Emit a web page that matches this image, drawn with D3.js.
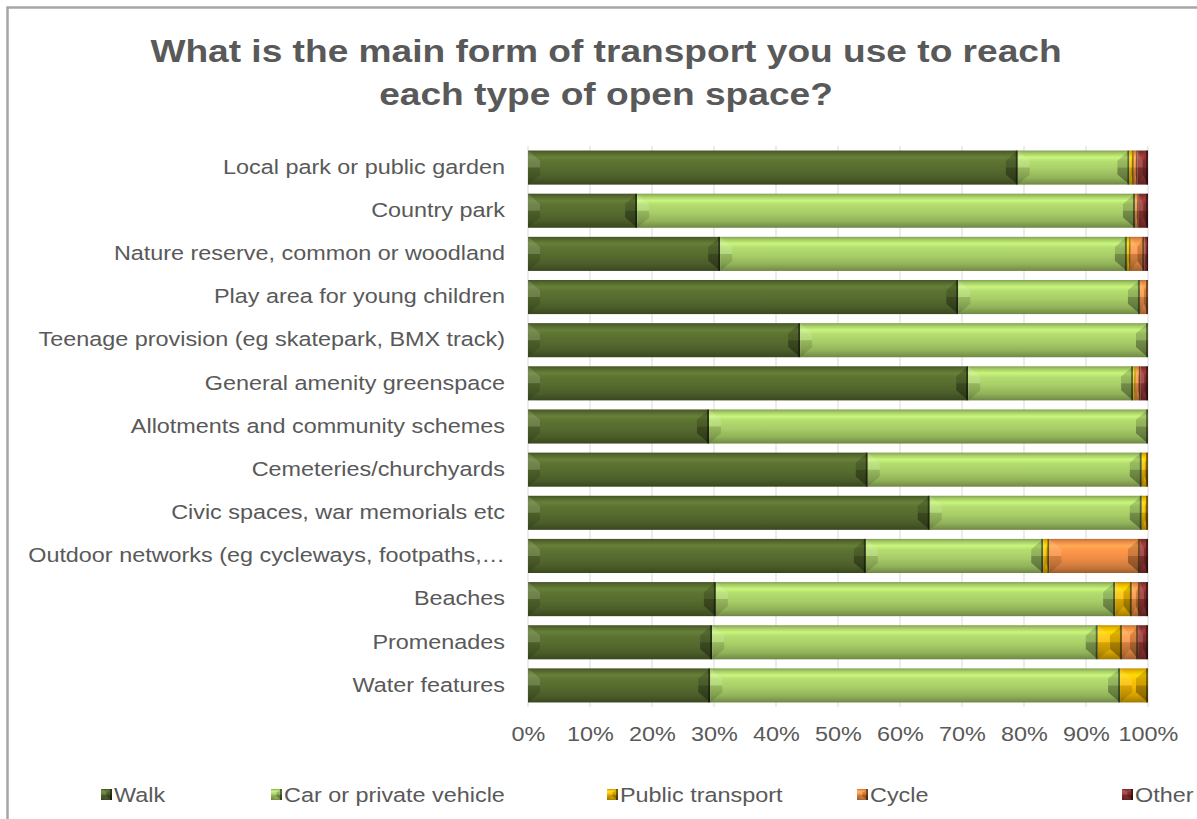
<!DOCTYPE html>
<html>
<head>
<meta charset="utf-8">
<script src="https://cdn.jsdelivr.net/npm/d3@7"></script>
<style>
  html, body { margin: 0; padding: 0; background: #fff; }
  svg { display: block; }
  text { font-family: "Liberation Sans", Arial, sans-serif; fill: #595959; }
</style>
</head>
<body>
<svg id="chart" width="1197" height="819"></svg>
<script>
// Survey responses: share of each transport mode, per type of open space (%)
const categories = [
  "Local park or public garden",
  "Country park",
  "Nature reserve, common or woodland",
  "Play area for young children",
  "Teenage provision (eg skatepark, BMX track)",
  "General amenity greenspace",
  "Allotments and community schemes",
  "Cemeteries/churchyards",
  "Civic spaces, war memorials etc",
  "Outdoor networks (eg cycleways, footpaths,\u2026",
  "Beaches",
  "Promenades",
  "Water features"
];
const seriesNames = ["Walk", "Car or private vehicle", "Public transport", "Cycle", "Other"];
const walk      = [79.0, 17.6, 31.0, 69.4, 43.9, 71.0, 29.2, 54.8, 64.8, 54.5, 30.3, 29.7, 29.4];
const car       = [18.0, 80.3, 65.6, 29.3, 56.1, 26.6, 70.8, 44.2, 34.2, 28.6, 64.4, 62.2, 66.1];
const publicTr  = [ 0.7,  0.0,  0.6,  0.0,  0.0,  0.4,  0.0,  1.0,  1.0,  1.0,  2.7,  3.9,  4.5];
const cycle     = [ 0.6,  0.6,  2.2,  1.3,  0.0,  0.8,  0.0,  0.0,  0.0, 14.6,  1.3,  2.6,  0.0];
const other     = [ 1.7,  1.5,  0.6,  0.0,  0.0,  1.2,  0.0,  0.0,  0.0,  1.3,  1.3,  1.6,  0.0];
const tickValues = [0, 10, 20, 30, 40, 50, 60, 70, 80, 90, 100];
const baseColors = ["#566b2f", "#a8ce68", "#f2b800", "#f08e45", "#8e3432"];

const seriesValues = [walk, car, publicTr, cycle, other];
const rows = categories.map((c, i) => {
  const r = { category: c };
  seriesNames.forEach((s, k) => r[s] = seriesValues[k][i]);
  return r;
});

const TEXT_STRETCH = 1.2;   // wide lettering used throughout the chart

const svg = d3.select("#chart");
const defs = svg.append("defs");

// Vertical shading giving each segment its rounded / bevelled look
baseColors.forEach((col, k) => {
  const c = d3.color(col);
  const g = defs.append("linearGradient").attr("id", "grad" + k)
    .attr("x1", 0).attr("y1", 0).attr("x2", 0).attr("y2", 1);
  [[0, c.darker(0.7)], [0.07, c.darker(0.1)], [0.2, c.brighter(0.5)], [0.32, c.brighter(0.2)],
   [0.55, c], [0.8, c.darker(0.4)], [0.93, c.darker(0.85)], [1, c.darker(1.2)]]
    .forEach(([o, cc]) => g.append("stop").attr("offset", o).attr("stop-color", cc.formatHex()));
});

// Outer frame
svg.append("rect").attr("x", 7.5).attr("y", 7.5).attr("width", 1260).attr("height", 900)
  .attr("fill", "none").attr("stroke", "#a6a6a6").attr("stroke-width", 2.5);

// Title
const title = svg.append("text").attr("transform", "translate(606,0) scale(1.16,1)")
  .attr("text-anchor", "middle")
  .style("font-size", "32px").style("font-weight", "bold");
title.append("tspan").attr("x", 0).attr("y", 62).text("What is the main form of transport you use to reach");
title.append("tspan").attr("x", 0).attr("y", 105).text("each type of open space?");

const x = d3.scaleLinear().domain([0, 100]).range([528, 1148]);
const y = d3.scaleBand().domain(categories).range([146, 707]).paddingInner(0.21).paddingOuter(0.105);

// Gridlines
svg.append("g").selectAll("line").data(tickValues).join("line")
  .attr("x1", d => x(d)).attr("x2", d => x(d))
  .attr("y1", y.range()[0]).attr("y2", y.range()[1])
  .attr("stroke", "#d9d9d9").attr("stroke-width", 1);

// X axis labels
const xAxis = d3.axisBottom(x).tickValues(tickValues).tickFormat(d => d + "%").tickSize(0).tickPadding(0);
const gx = svg.append("g").attr("transform", "translate(0,727)").call(xAxis);
gx.select(".domain").remove();
gx.selectAll("text").style("font-size", "19.5px").style("fill", "#595959")
  .style("font-family", '"Liberation Sans", Arial, sans-serif')
  .attr("transform", `scale(${TEXT_STRETCH},1)`);

// Y axis labels
const yAxis = d3.axisLeft(y).tickSize(0).tickPadding(0);
const gy = svg.append("g").attr("transform", "translate(505,0)").call(yAxis);
gy.select(".domain").remove();
gy.selectAll("text").style("font-size", "19.5px").style("fill", "#595959")
  .style("font-family", '"Liberation Sans", Arial, sans-serif')
  .attr("transform", `scale(${TEXT_STRETCH},1)`);

// Stacked bars
const stack = d3.stack().keys(seriesNames)(rows);

function drawBevelSeg(g, x0, x1, y0, h, k) {
  const w = x1 - x0;
  if (w <= 0) return;
  const y1 = y0 + h, ym = y0 + h / 2;
  const b = Math.min(12, w / 2);
  g.append("rect").attr("x", x0).attr("y", y0).attr("width", w).attr("height", h)
    .attr("fill", `url(#grad${k})`);
  // left end cap
  g.append("path").attr("d", `M${x0},${y0}L${x0 + b},${y0 + h * 0.3}L${x0 + b},${ym}L${x0},${ym}Z`)
    .attr("fill", "#fff").attr("opacity", 0.13);
  g.append("path").attr("d", `M${x0},${ym}L${x0 + b},${ym}L${x0 + b},${y1 - h * 0.3}L${x0},${y1}Z`)
    .attr("fill", "#000").attr("opacity", 0.12);
  // right end cap
  g.append("path").attr("d", `M${x1},${y0}L${x1 - b},${y0 + h * 0.3}L${x1 - b},${ym}L${x1},${ym}Z`)
    .attr("fill", "#000").attr("opacity", 0.16);
  g.append("path").attr("d", `M${x1},${ym}L${x1 - b},${ym}L${x1 - b},${y1 - h * 0.3}L${x1},${y1}Z`)
    .attr("fill", "#000").attr("opacity", 0.32);
  // dark edge line on the right
  g.append("rect").attr("x", x1 - Math.min(2, w / 3)).attr("y", y0).attr("width", Math.min(2, w / 3)).attr("height", h)
    .attr("fill", "#000").attr("opacity", 0.45);
}

const barsG = svg.append("g");
stack.forEach((layer, k) => {
  const lg = barsG.append("g").attr("class", "series-" + k);
  layer.forEach(d => {
    drawBevelSeg(lg, x(d[0]), x(d[1]), y(d.data.category), y.bandwidth(), k);
  });
});

// Legend
const legendX = [101, 271, 607, 857, 1122];
const lg = svg.append("g");
seriesNames.forEach((s, k) => {
  const g = lg.append("g");
  drawBevelSeg(g, legendX[k], legendX[k] + 11, 789, 11, k);
  g.append("text").attr("transform", `translate(${legendX[k] + 13},802) scale(${TEXT_STRETCH},1)`)
    .style("font-size", "19.5px").text(s);
});
</script>
</body>
</html>
